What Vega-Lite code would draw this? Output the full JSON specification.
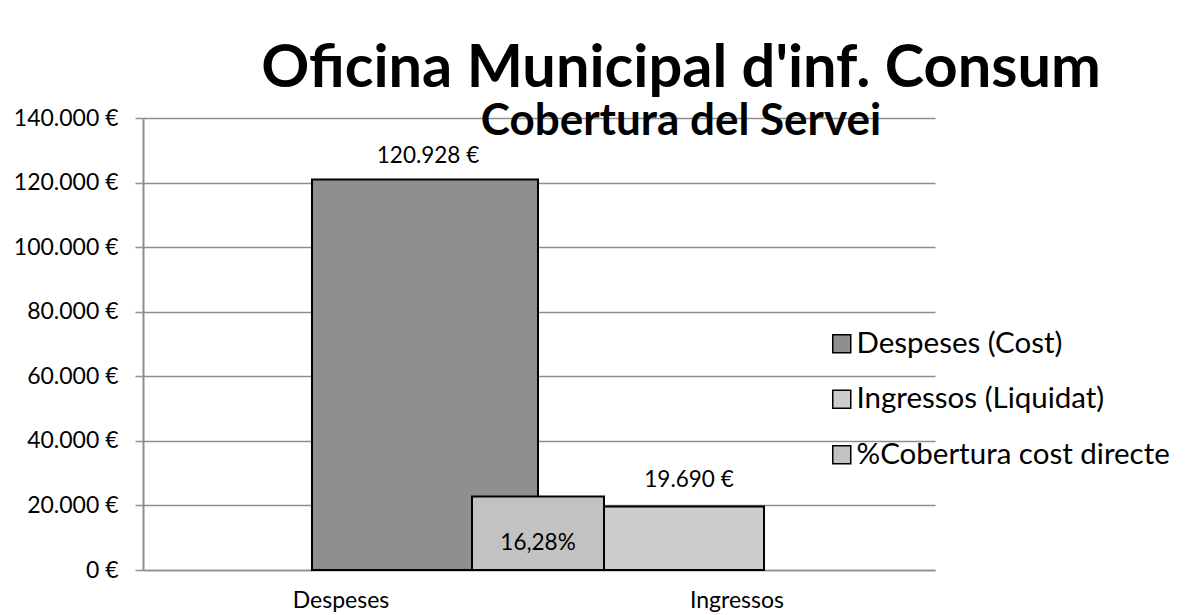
{
  "$schema": "https://vega.github.io/schema/vega-lite/v6.json",
  "width": 792,
  "height": 452,
  "autosize": "none",
  "padding": {"left": 143, "top": 118, "right": 252, "bottom": 45},
  "background": "white",
  "datasets": {
    "imports": [
      {"categoria": "Despeses", "serie": "Despeses (Cost)", "valor": 120928},
      {"categoria": "Ingressos", "serie": "Ingressos (Liquidat)", "valor": 19690}
    ],
    "cobertura": [
      {"serie": "%Cobertura cost directe", "cobertura": 0.1628}
    ]
  },
  "title": {
    "text": "Oficina Municipal d'inf. Consum",
    "subtitle": "Cobertura del Servei",
    "anchor": "middle",
    "dx": 142,
    "offset": -38,
    "font": "Lato",
    "fontSize": 59.5,
    "fontWeight": "bold",
    "color": "black",
    "subtitleFont": "Lato",
    "subtitleFontSize": 44,
    "subtitleFontWeight": "bold",
    "subtitleColor": "black",
    "subtitlePadding": 1
  },
  "layer": [
    {
      "data": {"name": "imports"},
      "mark": {"type": "bar", "opacity": 0},
      "encoding": {
        "x": {
          "field": "categoria", "type": "nominal", "sort": null,
          "scale": {"paddingInner": 0, "paddingOuter": 0},
          "axis": {"title": null, "labelAngle": 0, "ticks": false, "labelFont": "Lato", "labelFontSize": 23, "labelColor": "black", "labelPadding": 19, "domainColor": "#8e8e8e", "domainWidth": 1.5, "grid": false}
        },
        "y": {
          "field": "valor", "type": "quantitative",
          "scale": {"domain": [0, 140000], "nice": false},
          "axis": {"title": null, "values": [0, 20000, 40000, 60000, 80000, 100000, 120000, 140000], "format": "$,.0f", "labelFont": "Lato", "labelFontSize": 23, "labelColor": "black", "labelPadding": 17, "tickSize": 8, "tickColor": "#8e8e8e", "tickWidth": 1.5, "domainColor": "#8e8e8e", "domainWidth": 2, "grid": true, "gridColor": "#8e8e8e", "gridWidth": 1.5}
        }
      }
    },
    {
      "data": {"name": "imports"},
      "layer": [
        {
          "mark": {"type": "bar", "stroke": "black", "strokeWidth": 2},
          "encoding": {
            "x": {"field": "serie", "type": "nominal", "sort": null, "scale": {"range": [169, 621], "paddingInner": 0, "paddingOuter": 0}, "axis": null},
            "y": {"field": "valor", "type": "quantitative", "scale": {"domain": [0, 140000], "nice": false}, "axis": null},
            "color": {
              "field": "serie", "type": "nominal",
              "scale": {"domain": ["Despeses (Cost)", "Ingressos (Liquidat)", "%Cobertura cost directe"], "range": ["#8f8f8f", "#cdcdcd", "#c2c2c2"]},
              "legend": {"title": null, "orient": "none", "legendX": 684, "legendY": 211, "padding": 0, "symbolType": "square", "symbolSize": 324, "symbolStrokeColor": "black", "symbolStrokeWidth": 1.5, "symbolOpacity": 1, "labelFont": "Lato", "labelFontSize": 29.5, "labelColor": "black", "labelOffset": 0, "rowPadding": 24.5, "labelLimit": 500}
            }
          }
        },
        {
          "transform": [{"filter": "datum.serie == 'Despeses (Cost)'"}],
          "mark": {"type": "text", "baseline": "alphabetic", "dy": -17, "dx": 3, "font": "Lato", "fontSize": 22.5, "color": "black"},
          "encoding": {
            "x": {"field": "serie", "type": "nominal", "sort": null, "scale": {"range": [169, 621], "paddingInner": 0, "paddingOuter": 0}, "axis": null},
            "y": {"field": "valor", "type": "quantitative", "scale": {"domain": [0, 140000], "nice": false}, "axis": null},
            "text": {"field": "valor", "type": "quantitative", "format": "$,.0f"}
          }
        },
        {
          "transform": [{"filter": "datum.serie == 'Ingressos (Liquidat)'"}],
          "mark": {"type": "text", "baseline": "alphabetic", "dy": -19, "dx": 38, "font": "Lato", "fontSize": 22.5, "color": "black"},
          "encoding": {
            "x": {"field": "serie", "type": "nominal", "sort": null, "scale": {"range": [169, 621], "paddingInner": 0, "paddingOuter": 0}, "axis": null},
            "y": {"field": "valor", "type": "quantitative", "scale": {"domain": [0, 140000], "nice": false}, "axis": null},
            "text": {"field": "valor", "type": "quantitative", "format": "$,.0f"}
          }
        }
      ]
    },
    {
      "data": {"name": "cobertura"},
      "layer": [
        {
          "mark": {"type": "bar", "stroke": "black", "strokeWidth": 2},
          "encoding": {
            "x": {"field": "serie", "type": "nominal", "scale": {"range": [329, 461], "paddingInner": 0, "paddingOuter": 0}, "axis": null},
            "y": {"field": "cobertura", "type": "quantitative", "scale": {"domain": [0, 1], "nice": false}, "axis": null},
            "color": {"field": "serie", "type": "nominal"}
          }
        },
        {
          "mark": {"type": "text", "baseline": "alphabetic", "dy": 54, "font": "Lato", "fontSize": 22.5, "color": "black"},
          "encoding": {
            "x": {"field": "serie", "type": "nominal", "scale": {"range": [329, 461], "paddingInner": 0, "paddingOuter": 0}, "axis": null},
            "y": {"field": "cobertura", "type": "quantitative", "scale": {"domain": [0, 1], "nice": false}, "axis": null},
            "text": {"field": "cobertura", "type": "quantitative", "format": ".2%"}
          }
        }
      ]
    }
  ],
  "resolve": {"scale": {"x": "independent", "y": "independent"}, "axis": {"x": "independent", "y": "independent"}},
  "config": {
    "font": "Lato",
    "view": {"stroke": null},
    "locale": {
      "number": {"decimal": ",", "thousands": ".", "grouping": [3], "currency": ["", " €"]}
    }
  }
}
